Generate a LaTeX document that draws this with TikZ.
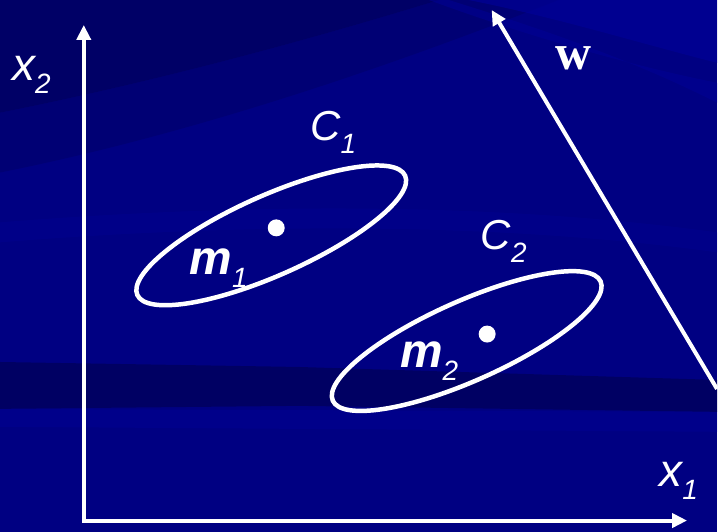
\documentclass[tikz,border=0pt]{standalone}
\usepackage{fontspec}
\setmainfont{Liberation Sans}
\newfontfamily\timesfam{Liberation Serif}
\usetikzlibrary{arrows.meta}
\definecolor{slideblue}{RGB}{0,0,130}
\definecolor{slidedark}{RGB}{0,0,96}
\definecolor{slidelight}{RGB}{0,0,150}
\newcommand{\lowsub}[1]{\raisebox{-13pt}{\mdseries\fontsize{28}{28}\selectfont #1}}

\begin{document}
\begin{tikzpicture}[x=1pt,y=1pt]
\tikzset{axis/.style={white, line width=4pt, line join=miter, {Triangle[length=15pt,width=14pt]}-{Triangle[length=15pt,width=14pt]}}}%
\tikzset{vecw/.style={white, line width=4pt, -{Triangle[length=15pt,width=14pt]}}}%
\tikzset{cluster/.style={white, line width=4.5pt}}%
\tikzset{mean/.style={circle, fill=white, inner sep=0pt, minimum size=17pt}}%
\tikzset{lbl/.style={white, inner sep=0pt, anchor=base west}}%
\tikzset{axlbl/.style={lbl, font=\fontsize{46}{46}\selectfont\itshape}}%
\tikzset{clslbl/.style={lbl, font=\fontsize{42}{42}\selectfont\itshape}}%
\tikzset{meanlbl/.style={lbl, font=\fontsize{48}{48}\selectfont\bfseries\itshape}}%
% background
\fill[slideblue] (0,0) rectangle (719,533);
\fill[slidedark, opacity=0.8] (0,533) -- (440,533) .. controls (300,490) and (150,450) .. (0,420) -- cycle;
\fill[slidedark, opacity=0.4] (0,420) .. controls (150,450) and (300,490) .. (440,533) -- (560,533) .. controls (400,470) and (200,400) .. (0,360) -- cycle;
\fill[slidelight, opacity=0.7] (470,533) -- (719,533) -- (719,470) .. controls (640,490) and (560,515) .. (470,533) -- cycle;
\fill[slidelight, opacity=0.5] (719,450) .. controls (620,470) and (520,500) .. (430,533) -- (450,533) .. controls (540,505) and (630,475) .. (719,430) -- cycle;
\fill[slidelight, opacity=0.35] (0,310) .. controls (250,330) and (500,330) .. (719,300) -- (719,280) .. controls (500,310) and (250,310) .. (0,290) -- cycle;
\fill[slidedark, opacity=0.9] (0,170) -- (300,165) -- (719,152) -- (719,120) -- (300,126) -- (0,123) -- cycle;
\fill[slidelight, opacity=0.4] (0,123) -- (719,120) -- (719,100) -- (0,105) -- cycle;
% axes and w
\coordinate (O) at (84,11);
\coordinate (x1tip) at (689,11);
\coordinate (x2tip) at (84,508);
\coordinate (wtail) at (719,143);
\coordinate (wtip) at (493,523);
\draw[axis] (x2tip) -- (O) -- (x1tip);
\draw[vecw] (wtail) -- (wtip);
% clusters
\coordinate (c1) at (272,297);
\coordinate (c2) at (468,191);
\draw[cluster, rotate around={24:(c1)}] (c1) ellipse (147pt and 40pt);
\draw[cluster, rotate around={24:(c2)}] (c2) ellipse (147pt and 40pt);
\node[mean] (m1dot) at (277,304.5) {};
\node[mean] (m2dot) at (488.5,198) {};
% labels
\node[axlbl] (x2lab) at (12,452) {x\lowsub{2}};
\node[axlbl] (x1lab) at (661,45) {x\lowsub{1}};
\node[clslbl] (c1lab) at (311,392) {C\lowsub{1}};
\node[clslbl] (c2lab) at (482,283) {C\lowsub{2}};
\node[meanlbl] (m1lab) at (190,258) {m\lowsub{1}};
\node[meanlbl] (m2lab) at (401,164) {m\lowsub{2}};
\node[lbl, font=\fontsize{50}{50}\selectfont\timesfam\bfseries] (wlab) at (557,463) {w};
\end{tikzpicture}
\end{document}
